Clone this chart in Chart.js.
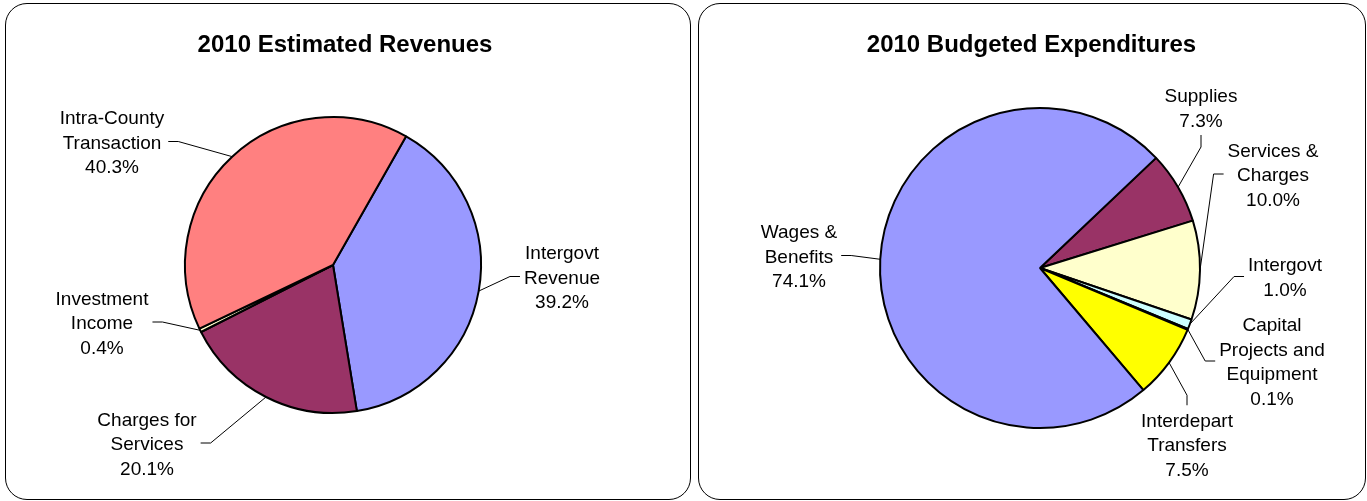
<!DOCTYPE html>
<html>
<head>
<meta charset="utf-8">
<script src="https://cdn.jsdelivr.net/npm/chart.js@4.4.1/dist/chart.umd.min.js"></script>
<style>
  body { margin: 0; background: #fff; width: 1367px; height: 501px; overflow: hidden; }
  .panel { position: absolute; border: 1.5px solid #000; border-radius: 22px; box-sizing: border-box; }
  canvas { position: absolute; top: 0; }
</style>
</head>
<body>
<div class="panel" style="left:5px; top:3px; width:686px; height:497px;"></div>
<div class="panel" style="left:698px; top:3px; width:668px; height:497px;"></div>
<canvas id="revChart" width="695" height="501" style="left:0px"></canvas>
<canvas id="expChart" width="672" height="501" style="left:695px"></canvas>
<script>
// revenues
const revenueCategories = [["Intergovt", "Revenue"], ["Charges for", "Services"], ["Investment", "Income"], ["Intra-County", "Transaction"]];
const revenueValues = [39.2, 20.1, 0.4, 40.3];
const revenueColors = ["#9999FF", "#993366", "#FFFFCC", "#FF8080"];

// expenditures
const expenseCategories = [["Supplies"], ["Services &", "Charges"], ["Intergovt"], ["Capital", "Projects and", "Equipment"], ["Interdepart", "Transfers"], ["Wages &", "Benefits"]];
const expenseValues = [7.3, 10.0, 1.0, 0.1, 7.5, 74.1];
const expenseColors = ["#993366", "#FFFFCC", "#CCFFFF", "#660066", "#FFFF00", "#9999FF"];

// label placement (offset of the label block from the pie centre, side the leader leaves from)
const revenueLabelPos = [
  { dx: 229, dy: 11.5, side: "left" },
  { dx: -186, dy: 178, side: "right" },
  { dx: -231, dy: 57, side: "right" },
  { dx: -221, dy: -123.5, side: "right" },
];
const expenseLabelPos = [
  { dx: 161, dy: -160.5, side: "bottom" },
  { dx: 233, dy: -94, side: "left" },
  { dx: 245, dy: 8.5, side: "left" },
  { dx: 232, dy: 93, side: "left" },
  { dx: 147, dy: 176, side: "top" },
  { dx: -241, dy: -12.5, side: "right" },
];

const labelFont = '19px "Liberation Sans", Arial, sans-serif';
const lineH = 24.5;

const pieLabels = {
  id: "pieLabels",
  afterDraw(chart, args, opts) {
    const ctx = chart.ctx;
    const meta = chart.getDatasetMeta(0);
    const values = chart.data.datasets[0].data;
    ctx.save();
    // title
    ctx.font = 'bold 24px "Liberation Sans", Arial, sans-serif';
    ctx.fillStyle = "#000";
    ctx.textAlign = "center";
    ctx.textBaseline = "alphabetic";
    ctx.fillText(opts.title, opts.titleX, 52);

    ctx.font = labelFont;
    meta.data.forEach((arc, i) => {
      const p = arc.getProps(["x", "y", "startAngle", "endAngle", "outerRadius"], true);
      const mid = (p.startAngle + p.endAngle) / 2;
      const ax = p.x + p.outerRadius * Math.cos(mid);
      const ay = p.y + p.outerRadius * Math.sin(mid);
      const pos = opts.positions[i];
      const cx = p.x + pos.dx;
      const cy = p.y + pos.dy;
      const lines = chart.data.labels[i].concat([values[i].toFixed(1) + "%"]);
      const w = Math.max(...lines.map((l) => ctx.measureText(l).width));
      const h = lines.length * lineH;

      let sx, sy, tx, ty;
      if (pos.side === "right") {
        sx = cx + w / 2 + 4; sy = cy; tx = sx + 10; ty = sy;
      } else if (pos.side === "left") {
        sx = cx - w / 2 - 4; sy = cy; tx = sx - 10; ty = sy;
      } else if (pos.side === "bottom") {
        sx = cx; sy = cy + h / 2 + 3; tx = sx; ty = sy + 12;
      } else {
        sx = cx; sy = cy - h / 2 - 2; tx = sx; ty = sy - 10;
      }
      ctx.strokeStyle = "#000";
      ctx.lineWidth = 1;
      ctx.beginPath();
      ctx.moveTo(sx, sy);
      ctx.lineTo(tx, ty);
      ctx.lineTo(ax, ay);
      ctx.stroke();

      lines.forEach((l, k) => {
        const ly = cy + (k - (lines.length - 1) / 2) * lineH;
        ctx.fillText(l, cx, ly + 7);
      });
    });
    ctx.restore();
  },
};

function makePie(id, labels, values, colors, rotation, padding, title, titleX, positions) {
  return new Chart(document.getElementById(id), {
    type: "pie",
    data: {
      labels: labels,
      datasets: [{ data: values, backgroundColor: colors, borderColor: "#000", borderWidth: 2 }],
    },
    options: {
      responsive: false,
      animation: false,
      rotation: rotation,
      layout: { padding: padding },
      plugins: {
        legend: { display: false },
        title: { display: false },
        tooltip: { enabled: false },
        pieLabels: { title: title, titleX: titleX, positions: positions },
      },
    },
    plugins: [pieLabels],
  });
}

makePie("revChart", revenueCategories, revenueValues, revenueColors, 29.6,
  { left: 184, right: 213, top: 116, bottom: 87 },
  "2010 Estimated Revenues", 345, revenueLabelPos);

makePie("expChart", expenseCategories, expenseValues, expenseColors, 46.5,
  { left: 184, right: 166, top: 107, bottom: 72 },
  "2010 Budgeted Expenditures", 336.5, expenseLabelPos);
</script>
</body>
</html>
